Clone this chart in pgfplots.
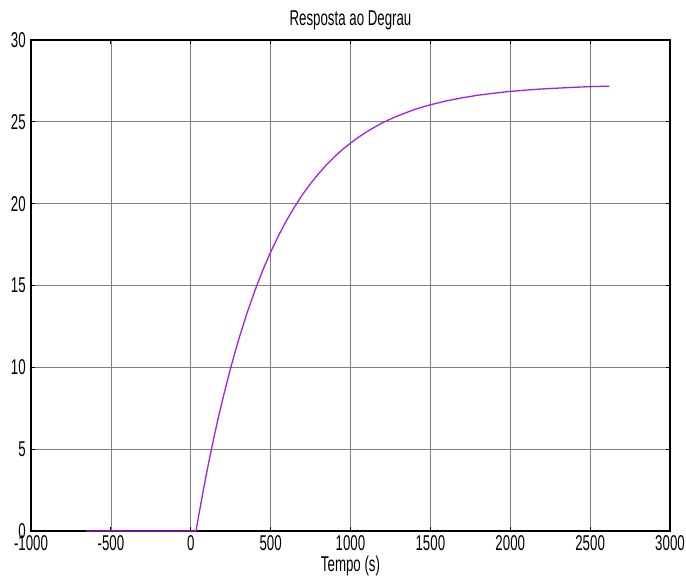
\documentclass[border=0pt]{standalone}
\usepackage{fontspec}
\setmainfont{Liberation Sans}[FakeStretch=0.62]
\usepackage{pgfplots}
\pgfplotsset{compat=1.18}
\definecolor{curve}{RGB}{160,32,240}
\begin{document}
\fontsize{21.5}{24}\selectfont
\begin{tikzpicture}
\begin{axis}[
  at={(0,0)}, anchor=south west,
  scale only axis,
  width=639bp, height=491bp,
  xmin=-1000, xmax=3000, ymin=0, ymax=30,
  xtick={-1000,-500,...,3000},
  ytick={0,5,...,30},
  /pgf/number format/assume math mode=true,
  /pgf/number format/1000 sep={},
  tick align=inside,
  major tick length=4bp,
  tick style={black, line width=0.8bp},
  axis line style={black, line width=1.5bp},
  grid=major,
  major grid style={black!50, line width=0.7bp},
  xticklabel style={yshift=3bp},
  yticklabel style={xshift=2bp},
  title={Resposta ao Degrau},
  title style={yshift=-3bp},
  xlabel={Tempo (s)},
  xlabel style={yshift=9bp},
]
\addplot[curve, line width=1.3bp] coordinates {
(-656,0) (33,0) (50,0.955) (75,2.29) (100,3.58) (125,4.79) (150,5.94) (175,7.03)
(200,8.06) (250,9.98) (300,11.70) (350,13.25) (400,14.65) (450,15.91)
(500,17.04) (550,18.06) (600,18.98) (650,19.81) (700,20.56) (750,21.23)
(800,21.83) (850,22.38) (900,22.87) (950,23.31) (1000,23.70) (1050,24.06)
(1100,24.38) (1150,24.67) (1200,24.94) (1250,25.17) (1300,25.38) (1350,25.57)
(1400,25.75) (1450,25.90) (1500,26.04) (1600,26.28) (1700,26.47)
(1800,26.63) (1900,26.75) (2000,26.86) (2100,26.94) (2200,27.01) (2300,27.06)
(2400,27.11) (2500,27.15) (2620,27.18)
};
\end{axis}
\pgfresetboundingbox
\path (-31bp,-45bp) rectangle (655bp,531bp);
\end{tikzpicture}
\end{document}
